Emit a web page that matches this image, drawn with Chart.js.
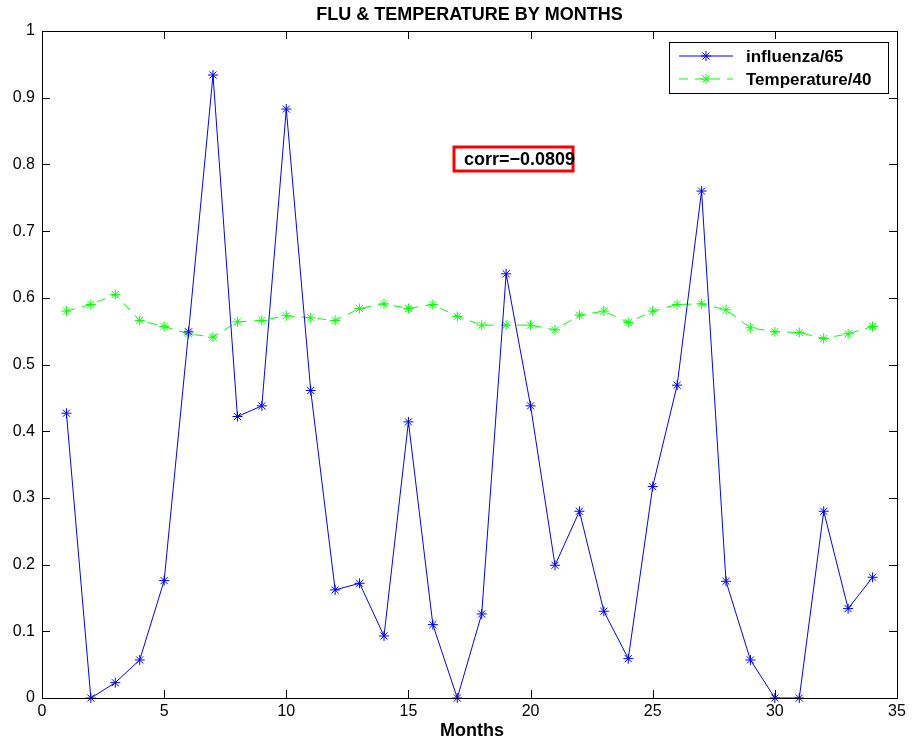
<!DOCTYPE html>
<html>
<head>
<meta charset="utf-8">
<script src="https://cdn.jsdelivr.net/npm/chart.js@4"></script>
<style>
  html, body { margin: 0; padding: 0; background: #fff; }
</style>
</head>
<body>
<canvas id="fluChart" width="912" height="744"></canvas>
<script>
const months = [1, 2, 3, 4, 5, 6, 7, 8, 9, 10, 11, 12, 13, 14, 15, 16, 17,
  18, 19, 20, 21, 22, 23, 24, 25, 26, 27, 28, 29, 30, 31, 32, 33, 34];
const influenza = [0.427, 0, 0.023, 0.057, 0.176, 0.549, 0.934, 0.422, 0.438, 0.883, 0.461, 0.162,
  0.172, 0.093, 0.414, 0.110, 0, 0.126, 0.636, 0.438, 0.199, 0.280, 0.130, 0.059,
  0.317, 0.469, 0.760, 0.175, 0.057, 0, 0, 0.280, 0.134, 0.181];
const temperature = [0.580, 0.590, 0.605, 0.566, 0.557, 0.546, 0.541, 0.564, 0.566, 0.573, 0.570, 0.566,
  0.584, 0.591, 0.584, 0.590, 0.572, 0.559, 0.559, 0.559, 0.552, 0.574, 0.580, 0.563,
  0.580, 0.590, 0.591, 0.582, 0.555, 0.549, 0.548, 0.539, 0.546, 0.557];
const xTicks = [0, 5, 10, 15, 20, 25, 30, 35];
const yTicks = [0, 0.1, 0.2, 0.3, 0.4, 0.5, 0.6, 0.7, 0.8, 0.9, 1];
const seriesNames = ["influenza/65", "Temperature/40"];
const chartTitle = "FLU & TEMPERATURE BY MONTHS";
const xTitle = "Months";
const corrText = "corr=\u22120.0809";

const FONT = "'Liberation Sans', Arial, Helvetica, sans-serif";

// axes box, inward ticks, legend and the corr note, MATLAB style
const matlabDecor = {
  id: "matlabDecor",
  afterDraw(chart) {
    const ctx = chart.ctx;
    const a = chart.chartArea;
    const xs = chart.scales.x, ys = chart.scales.y;
    ctx.save();

    // box + ticks
    ctx.strokeStyle = "#000";
    ctx.lineWidth = 1;
    ctx.strokeRect(a.left + 0.5, a.top + 0.5, a.right - a.left, a.bottom - a.top);
    ctx.beginPath();
    xTicks.forEach(v => {
      const px = Math.round(xs.getPixelForValue(v)) + 0.5;
      ctx.moveTo(px, a.bottom); ctx.lineTo(px, a.bottom - 8);
      ctx.moveTo(px, a.top); ctx.lineTo(px, a.top + 8);
    });
    yTicks.forEach(v => {
      const py = Math.round(ys.getPixelForValue(v)) + 0.5;
      ctx.moveTo(a.left, py); ctx.lineTo(a.left + 8, py);
      ctx.moveTo(a.right, py); ctx.lineTo(a.right - 8, py);
    });
    ctx.stroke();

    // titles
    ctx.fillStyle = "#000";
    ctx.textAlign = "center";
    ctx.textBaseline = "middle";
    ctx.font = "bold 18px " + FONT;
    ctx.fillText(chartTitle, (a.left + a.right) / 2, 15);
    ctx.font = "bold 18px " + FONT;
    ctx.fillText(xTitle, 472, 731);

    // legend
    const lx = 669, ly = 42, lw = 219, lh = 51;
    ctx.fillStyle = "#fff";
    ctx.fillRect(lx, ly, lw, lh);
    ctx.strokeRect(lx + 0.5, ly + 0.5, lw, lh);
    chart.data.datasets.forEach((ds, i) => {
      const ry = 56 + i * 23;
      ctx.strokeStyle = ds.borderColor;
      ctx.lineWidth = 1;
      ctx.setLineDash(ds.borderDash || []);
      ctx.beginPath();
      ctx.moveTo(679, ry); ctx.lineTo(733, ry);
      ctx.stroke();
      ctx.setLineDash([]);
      Chart.helpers.drawPoint(ctx, { pointStyle: "star", radius: 5, rotation: 0, borderWidth: 1 }, 706, ry);
      ctx.fillStyle = "#000";
      ctx.textAlign = "left";
      ctx.font = "bold 17px " + FONT;
      ctx.fillText(ds.label, 746, ry + 1);
    });

    // corr note
    ctx.strokeStyle = "#ff0000";
    ctx.lineWidth = 3;
    ctx.strokeRect(454, 147, 119, 24);
    ctx.fillStyle = "#000";
    ctx.textAlign = "left";
    ctx.font = "bold 18px " + FONT;
    ctx.fillText(corrText, 464, 160);

    ctx.restore();
  }
};

const ctx = document.getElementById("fluChart").getContext("2d");
new Chart(ctx, {
  type: "line",
  data: {
    datasets: [
      {
        label: seriesNames[0],
        data: influenza.map((v, i) => ({ x: months[i], y: v })),
        borderColor: "#0000ff",
        borderWidth: 1,
        pointStyle: "star",
        pointRadius: 5,
        pointBorderColor: "#0000ff",
        pointBorderWidth: 1,
        fill: false,
        tension: 0,
        clip: false
      },
      {
        label: seriesNames[1],
        data: temperature.map((v, i) => ({ x: months[i], y: v })),
        borderColor: "#00ff00",
        borderWidth: 1,
        borderDash: [9, 7],
        pointStyle: "star",
        pointRadius: 5,
        pointBorderColor: "#00ff00",
        pointBorderWidth: 1,
        fill: false,
        tension: 0,
        clip: false
      }
    ]
  },
  options: {
    responsive: false,
    animation: false,
    layout: { padding: { top: 31, right: 15, left: 0, bottom: 0 } },
    plugins: {
      legend: { display: false },
      tooltip: { enabled: false },
      title: { display: false }
    },
    scales: {
      x: {
        type: "linear",
        min: 0,
        max: 35,
        afterBuildTicks: s => { s.ticks = xTicks.map(v => ({ value: v })); },
        afterFit: s => { s.height = 46; },
        grid: { display: false, drawTicks: false },
        border: { display: false },
        ticks: { color: "#000", font: { size: 16, family: FONT }, padding: 4, maxRotation: 0 }
      },
      y: {
        min: 0,
        max: 1,
        afterBuildTicks: s => { s.ticks = yTicks.map(v => ({ value: v })); },
        afterFit: s => { s.width = 42; },
        grid: { display: false, drawTicks: false },
        border: { display: false },
        ticks: { color: "#000", font: { size: 16, family: FONT }, padding: 7, callback: v => String(v) }
      }
    }
  },
  plugins: [matlabDecor]
});
</script>
</body>
</html>
